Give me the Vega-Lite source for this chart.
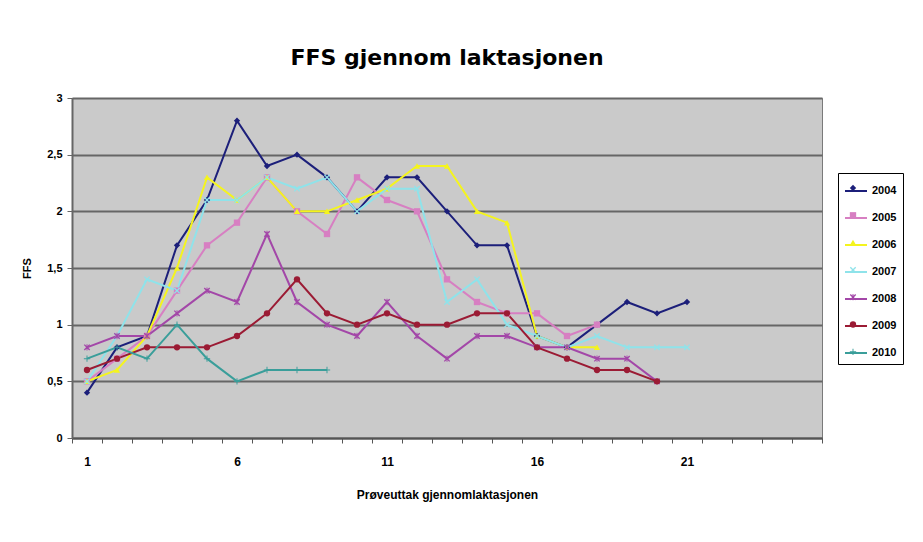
{
 "$schema": "https://vega.github.io/schema/vega-lite/v6.json",
 "width": 750, "height": 340,
 "autosize": {"type": "none"},
 "padding": {"left": 72, "top": 98, "right": 101, "bottom": 104},
 "background": "white",
 "title": {"text": "FFS gjennom laktasjonen", "font": "DejaVu Sans", "fontSize": 22, "fontWeight": "bold", "color": "black", "anchor": "middle", "offset": 22},
 "config": {
   "view": {"fill": "#cacaca", "stroke": "#7a7a7a", "strokeWidth": 1},
   "axis": {"labelFont": "Liberation Sans", "titleFont": "Liberation Sans", "labelColor": "black", "titleColor": "black", "labelFontWeight": "bold", "titleFontWeight": "bold"}
 },
 "datasets": {
  "ffs": [
   {"year":"2004","prove":1,"ffs":0.4},{"year":"2004","prove":2,"ffs":0.8},{"year":"2004","prove":3,"ffs":0.9},{"year":"2004","prove":4,"ffs":1.7},{"year":"2004","prove":5,"ffs":2.1},{"year":"2004","prove":6,"ffs":2.8},{"year":"2004","prove":7,"ffs":2.4},{"year":"2004","prove":8,"ffs":2.5},{"year":"2004","prove":9,"ffs":2.3},{"year":"2004","prove":10,"ffs":2.0},{"year":"2004","prove":11,"ffs":2.3},{"year":"2004","prove":12,"ffs":2.3},{"year":"2004","prove":13,"ffs":2.0},{"year":"2004","prove":14,"ffs":1.7},{"year":"2004","prove":15,"ffs":1.7},{"year":"2004","prove":16,"ffs":0.9},{"year":"2004","prove":17,"ffs":0.8},{"year":"2004","prove":18,"ffs":1.0},{"year":"2004","prove":19,"ffs":1.2},{"year":"2004","prove":20,"ffs":1.1},{"year":"2004","prove":21,"ffs":1.2},
   {"year":"2005","prove":1,"ffs":0.5},{"year":"2005","prove":2,"ffs":0.7},{"year":"2005","prove":3,"ffs":0.9},{"year":"2005","prove":4,"ffs":1.3},{"year":"2005","prove":5,"ffs":1.7},{"year":"2005","prove":6,"ffs":1.9},{"year":"2005","prove":7,"ffs":2.3},{"year":"2005","prove":8,"ffs":2.0},{"year":"2005","prove":9,"ffs":1.8},{"year":"2005","prove":10,"ffs":2.3},{"year":"2005","prove":11,"ffs":2.1},{"year":"2005","prove":12,"ffs":2.0},{"year":"2005","prove":13,"ffs":1.4},{"year":"2005","prove":14,"ffs":1.2},{"year":"2005","prove":15,"ffs":1.1},{"year":"2005","prove":16,"ffs":1.1},{"year":"2005","prove":17,"ffs":0.9},{"year":"2005","prove":18,"ffs":1.0},
   {"year":"2006","prove":1,"ffs":0.5},{"year":"2006","prove":2,"ffs":0.6},{"year":"2006","prove":3,"ffs":0.9},{"year":"2006","prove":4,"ffs":1.5},{"year":"2006","prove":5,"ffs":2.3},{"year":"2006","prove":6,"ffs":2.1},{"year":"2006","prove":7,"ffs":2.3},{"year":"2006","prove":8,"ffs":2.0},{"year":"2006","prove":9,"ffs":2.0},{"year":"2006","prove":10,"ffs":2.1},{"year":"2006","prove":11,"ffs":2.2},{"year":"2006","prove":12,"ffs":2.4},{"year":"2006","prove":13,"ffs":2.4},{"year":"2006","prove":14,"ffs":2.0},{"year":"2006","prove":15,"ffs":1.9},{"year":"2006","prove":16,"ffs":0.9},{"year":"2006","prove":17,"ffs":0.8},{"year":"2006","prove":18,"ffs":0.8},
   {"year":"2007","prove":1,"ffs":0.5},{"year":"2007","prove":2,"ffs":0.9},{"year":"2007","prove":3,"ffs":1.4},{"year":"2007","prove":4,"ffs":1.3},{"year":"2007","prove":5,"ffs":2.1},{"year":"2007","prove":6,"ffs":2.1},{"year":"2007","prove":7,"ffs":2.3},{"year":"2007","prove":8,"ffs":2.2},{"year":"2007","prove":9,"ffs":2.3},{"year":"2007","prove":10,"ffs":2.0},{"year":"2007","prove":11,"ffs":2.2},{"year":"2007","prove":12,"ffs":2.2},{"year":"2007","prove":13,"ffs":1.2},{"year":"2007","prove":14,"ffs":1.4},{"year":"2007","prove":15,"ffs":1.0},{"year":"2007","prove":16,"ffs":0.9},{"year":"2007","prove":17,"ffs":0.8},{"year":"2007","prove":18,"ffs":0.9},{"year":"2007","prove":19,"ffs":0.8},{"year":"2007","prove":20,"ffs":0.8},{"year":"2007","prove":21,"ffs":0.8},
   {"year":"2008","prove":1,"ffs":0.8},{"year":"2008","prove":2,"ffs":0.9},{"year":"2008","prove":3,"ffs":0.9},{"year":"2008","prove":4,"ffs":1.1},{"year":"2008","prove":5,"ffs":1.3},{"year":"2008","prove":6,"ffs":1.2},{"year":"2008","prove":7,"ffs":1.8},{"year":"2008","prove":8,"ffs":1.2},{"year":"2008","prove":9,"ffs":1.0},{"year":"2008","prove":10,"ffs":0.9},{"year":"2008","prove":11,"ffs":1.2},{"year":"2008","prove":12,"ffs":0.9},{"year":"2008","prove":13,"ffs":0.7},{"year":"2008","prove":14,"ffs":0.9},{"year":"2008","prove":15,"ffs":0.9},{"year":"2008","prove":16,"ffs":0.8},{"year":"2008","prove":17,"ffs":0.8},{"year":"2008","prove":18,"ffs":0.7},{"year":"2008","prove":19,"ffs":0.7},{"year":"2008","prove":20,"ffs":0.5},
   {"year":"2009","prove":1,"ffs":0.6},{"year":"2009","prove":2,"ffs":0.7},{"year":"2009","prove":3,"ffs":0.8},{"year":"2009","prove":4,"ffs":0.8},{"year":"2009","prove":5,"ffs":0.8},{"year":"2009","prove":6,"ffs":0.9},{"year":"2009","prove":7,"ffs":1.1},{"year":"2009","prove":8,"ffs":1.4},{"year":"2009","prove":9,"ffs":1.1},{"year":"2009","prove":10,"ffs":1.0},{"year":"2009","prove":11,"ffs":1.1},{"year":"2009","prove":12,"ffs":1.0},{"year":"2009","prove":13,"ffs":1.0},{"year":"2009","prove":14,"ffs":1.1},{"year":"2009","prove":15,"ffs":1.1},{"year":"2009","prove":16,"ffs":0.8},{"year":"2009","prove":17,"ffs":0.7},{"year":"2009","prove":18,"ffs":0.6},{"year":"2009","prove":19,"ffs":0.6},{"year":"2009","prove":20,"ffs":0.5},
   {"year":"2010","prove":1,"ffs":0.7},{"year":"2010","prove":2,"ffs":0.8},{"year":"2010","prove":3,"ffs":0.7},{"year":"2010","prove":4,"ffs":1.0},{"year":"2010","prove":5,"ffs":0.7},{"year":"2010","prove":6,"ffs":0.5},{"year":"2010","prove":7,"ffs":0.6},{"year":"2010","prove":8,"ffs":0.6},{"year":"2010","prove":9,"ffs":0.6}
  ]
 },
 "data": {"name": "ffs"},
 "layer": [
  {
   "mark": {"type": "line", "strokeWidth": 2},
   "encoding": {
    "x": {"field": "prove", "type": "quantitative", "scale": {"domain": [0.5, 25.5], "nice": false, "zero": false},
      "axis": {"orient": "bottom", "values": [1, 6, 11, 16, 21], "ticks": false, "domain": false, "grid": false, "labelFontSize": 12, "labelPadding": 18, "title": "Prøveuttak gjennomlaktasjonen", "titleFontSize": 12, "titlePadding": 22}},
    "y": {"field": "ffs", "type": "quantitative", "scale": {"domain": [0, 3], "nice": false, "zero": true},
      "axis": {"values": [0, 0.5, 1, 1.5, 2, 2.5, 3], "labelExpr": "replace(toString(datum.value), '.', ',')", "grid": true, "gridColor": "#666666", "gridWidth": 2, "domainColor": "#666666", "domainWidth": 2, "tickColor": "#666666", "tickSize": 5, "labelFontSize": 11, "labelPadding": 5, "title": "FFS", "titleFontSize": 11, "titlePadding": 14}},
    "stroke": {"field": "year", "type": "nominal",
      "scale": {"domain": ["2004", "2005", "2006", "2007", "2008", "2009", "2010"], "range": ["#1c1f7a", "#d77fc2", "#f4f41e", "#8fe3ea", "#a347a8", "#9b1b34", "#3a9e9a"]},
      "legend": {"orient": "none", "legendX": 766, "legendY": 75, "symbolType": "stroke", "symbolSize": 484, "symbolStrokeWidth": 2, "title": null, "labelFont": "Liberation Sans", "labelFontWeight": "bold", "labelFontSize": 11, "labelColor": "black", "padding": 6, "rowPadding": 10, "strokeColor": "#000000", "fillColor": "white", "labelOffset": 4}}
   }
  },
  {
   "mark": {"type": "point", "filled": true, "size": 40, "opacity": 1},
   "encoding": {
    "x": {"field": "prove", "type": "quantitative",
      "axis": {"orient": "bottom", "values": [0.5, 1.5, 2.5, 3.5, 4.5, 5.5, 6.5, 7.5, 8.5, 9.5, 10.5, 11.5, 12.5, 13.5, 14.5, 15.5, 16.5, 17.5, 18.5, 19.5, 20.5, 21.5, 22.5, 23.5, 24.5, 25.5], "labels": false, "ticks": true, "tickSize": 5, "tickColor": "#555555", "domain": true, "domainColor": "#555555", "domainWidth": 2, "grid": false, "title": null}},
    "y": {"field": "ffs", "type": "quantitative"},
    "color": {"field": "year", "type": "nominal",
      "scale": {"range": ["#1c1f7a", "#d77fc2", "#f4f41e", "#8fe3ea", "#a347a8", "#9b1b34", "#3a9e9a"]},
      "legend": {"orient": "none", "legendX": 770, "legendY": 79, "title": null, "symbolSize": 40, "labelFontSize": 22, "labelExpr": "''", "padding": 0, "rowPadding": 5.3, "symbolStrokeWidth": 0}},
    "shape": {"field": "year", "type": "nominal",
      "scale": {"range": ["diamond", "square", "triangle-up", "M-1,-0.7L-0.7,-1L0,-0.3L0.7,-1L1,-0.7L0.3,0L1,0.7L0.7,1L0,0.3L-0.7,1L-1,0.7L-0.3,0Z", "M-1,-0.7L-0.7,-1L0,-0.3L0.7,-1L1,-0.7L0.3,0L1,0.7L0.7,1L0,0.3L-0.7,1L-1,0.7L-0.3,0ZM-0.15,-1L0.15,-1L0.15,1L-0.15,1Z", "circle", "M-1,-0.15L-0.15,-0.15L-0.15,-1L0.15,-1L0.15,-0.15L1,-0.15L1,0.15L0.15,0.15L0.15,1L-0.15,1L-0.15,0.15L-1,0.15Z"]},
      "legend": {"orient": "none", "legendX": 770, "legendY": 79, "title": null, "symbolSize": 40, "labelFontSize": 22, "labelExpr": "''", "padding": 0, "rowPadding": 5.3, "symbolStrokeWidth": 0}}
   }
  }
 ],
 "resolve": {"axis": {"x": "independent"}}
}
